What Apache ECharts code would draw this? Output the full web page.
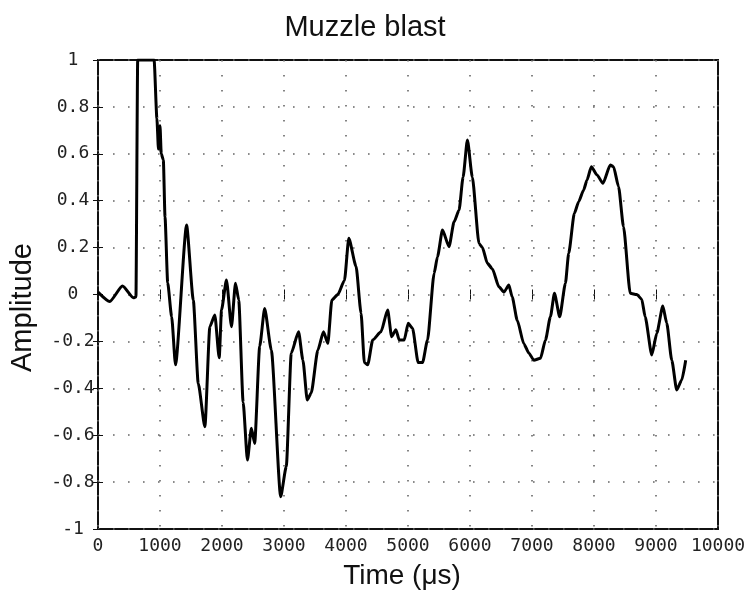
<!DOCTYPE html>
<html>
<head>
<meta charset="utf-8">
<script src="https://cdn.jsdelivr.net/npm/echarts@6/dist/echarts.min.js"></script>
<style>
html, body { margin: 0; padding: 0; background: #fff; }
#chart { width: 753px; height: 598px; }
</style>
</head>
<body>
<div id="chart"></div>
<script>
// time in microseconds, amplitude
const timeUs = [0, 190, 395, 572, 612, 640, 905, 950, 975, 1000, 1020, 1054, 1081, 1124, 1188, 1250,
  1429, 1537, 1617, 1724, 1804, 1884, 1955, 1992, 2072, 2153, 2217, 2270, 2341, 2410, 2474, 2527,
  2608, 2688, 2796, 2946, 3037, 3117, 3235, 3305, 3375, 3439, 3546, 3637, 3707, 3772, 3868, 3975,
  4045, 4162, 4243, 4296, 4350, 4431, 4564, 4672, 4736, 4805, 4859, 4939, 5003, 5073, 5164, 5235,
  5315, 5421, 5475, 5556, 5662, 5743, 5824, 5888, 5958, 6038, 6145, 6200, 6280, 6360, 6466, 6547,
  6627, 6680, 6762, 6868, 6950, 7029, 7137, 7217, 7297, 7362, 7447, 7539, 7592, 7683, 7753, 7833,
  7887, 7957, 8048, 8144, 8262, 8315, 8396, 8476, 8584, 8691, 8770, 8825, 8932, 9013, 9110, 9174,
  9254, 9334, 9415, 9479];
const amplitude = [0.01, -0.03, 0.036, -0.014, -0.01, 1, 1, 0.75, 0.62, 0.72, 0.6, 0.574, 0.33, 0.05, -0.095, -0.3,
  0.296, -0.023, -0.38, -0.564, -0.137, -0.087, -0.27, -0.066, 0.062, -0.137, 0.048, -0.023, -0.46, -0.706, -0.57, -0.635,
  -0.22, -0.06, -0.237, -0.862, -0.734, -0.25, -0.159, -0.28, -0.45, -0.42, -0.237, -0.159, -0.208, -0.023, 0.0, 0.06,
  0.24, 0.12, -0.08, -0.29, -0.3, -0.194, -0.159, -0.066, -0.18, -0.15, -0.194, -0.194, -0.123, -0.144, -0.29, -0.29,
  -0.194, 0.09, 0.16, 0.275, 0.204, 0.31, 0.36, 0.5, 0.659, 0.5, 0.218, 0.2, 0.133, 0.11, 0.033, 0.01,
  0.04, -0.01, -0.11, -0.21, -0.25, -0.28, -0.272, -0.194, -0.095, 0.005, -0.095, 0.048, 0.176, 0.346, 0.396, 0.446,
  0.488, 0.545, 0.51, 0.474, 0.552, 0.545, 0.46, 0.289, 0.005, 0, -0.02, -0.095, -0.258, -0.165, -0.049, -0.123,
  -0.28, -0.407, -0.365, -0.28];

const chart = echarts.init(document.getElementById('chart'));
const monoFont = 'DejaVu Sans Mono';
const gridDots = { show: true, lineStyle: { color: '#666', width: 1.6, type: [1.6, 13.4] } };
const tickIn = { inside: true, length: 5, lineStyle: { color: '#111', width: 1 } };

const option = {
  backgroundColor: '#fff',
  animation: false,
  title: {
    text: 'Muzzle blast',
    left: 360, top: 8, textAlign: 'center',
    textStyle: { fontFamily: 'Liberation Sans', fontWeight: 'normal', fontSize: 29, color: '#111' }
  },
  grid: { left: 96, top: 60, right: 35, bottom: 69, show: true, borderColor: '#111', borderWidth: 2 },
  xAxis: [{
    type: 'value', min: 0, max: 10000, interval: 1000,
    name: 'Time (μs)', nameLocation: 'middle', nameGap: 33,
    nameTextStyle: { fontFamily: 'Liberation Sans', fontSize: 28, color: '#111', padding: [0, 12, 0, 0] },
    axisLine: { show: false },
    axisTick: tickIn,
    axisLabel: { fontFamily: monoFont, fontSize: 18, color: '#222', margin: 8,
      showMinLabel: true, showMaxLabel: true, formatter: v => String(v) },
    splitLine: gridDots
  }, {
    type: 'value', position: 'top', min: 0, max: 10000, interval: 1000,
    axisLine: { show: false }, axisTick: tickIn, axisLabel: { show: false }, splitLine: { show: false }
  }],
  yAxis: [{
    type: 'value', min: -1, max: 1, interval: 0.2,
    name: 'Amplitude', nameLocation: 'middle', nameGap: 61,
    nameTextStyle: { fontFamily: 'Liberation Sans', fontSize: 29, color: '#111', padding: [0, 26, 0, 0] },
    axisLine: { show: false },
    axisTick: tickIn,
    axisLabel: { fontFamily: monoFont, fontSize: 18, color: '#222', margin: 25, align: 'center',
      formatter: v => String(Math.round(v * 10) / 10) },
    splitLine: gridDots
  }, {
    type: 'value', position: 'right', min: -1, max: 1, interval: 0.2,
    axisLine: { show: false }, axisTick: tickIn, axisLabel: { show: false }, splitLine: { show: false }
  }],
  series: [{
    type: 'line',
    data: timeUs.map((t, i) => [t, amplitude[i]]),
    showSymbol: false,
    smooth: 0.2,
    smoothMonotone: 'x',
    lineStyle: { color: '#000', width: 3 },
    clip: true
  }]
};
chart.setOption(option);
</script>
</body>
</html>
